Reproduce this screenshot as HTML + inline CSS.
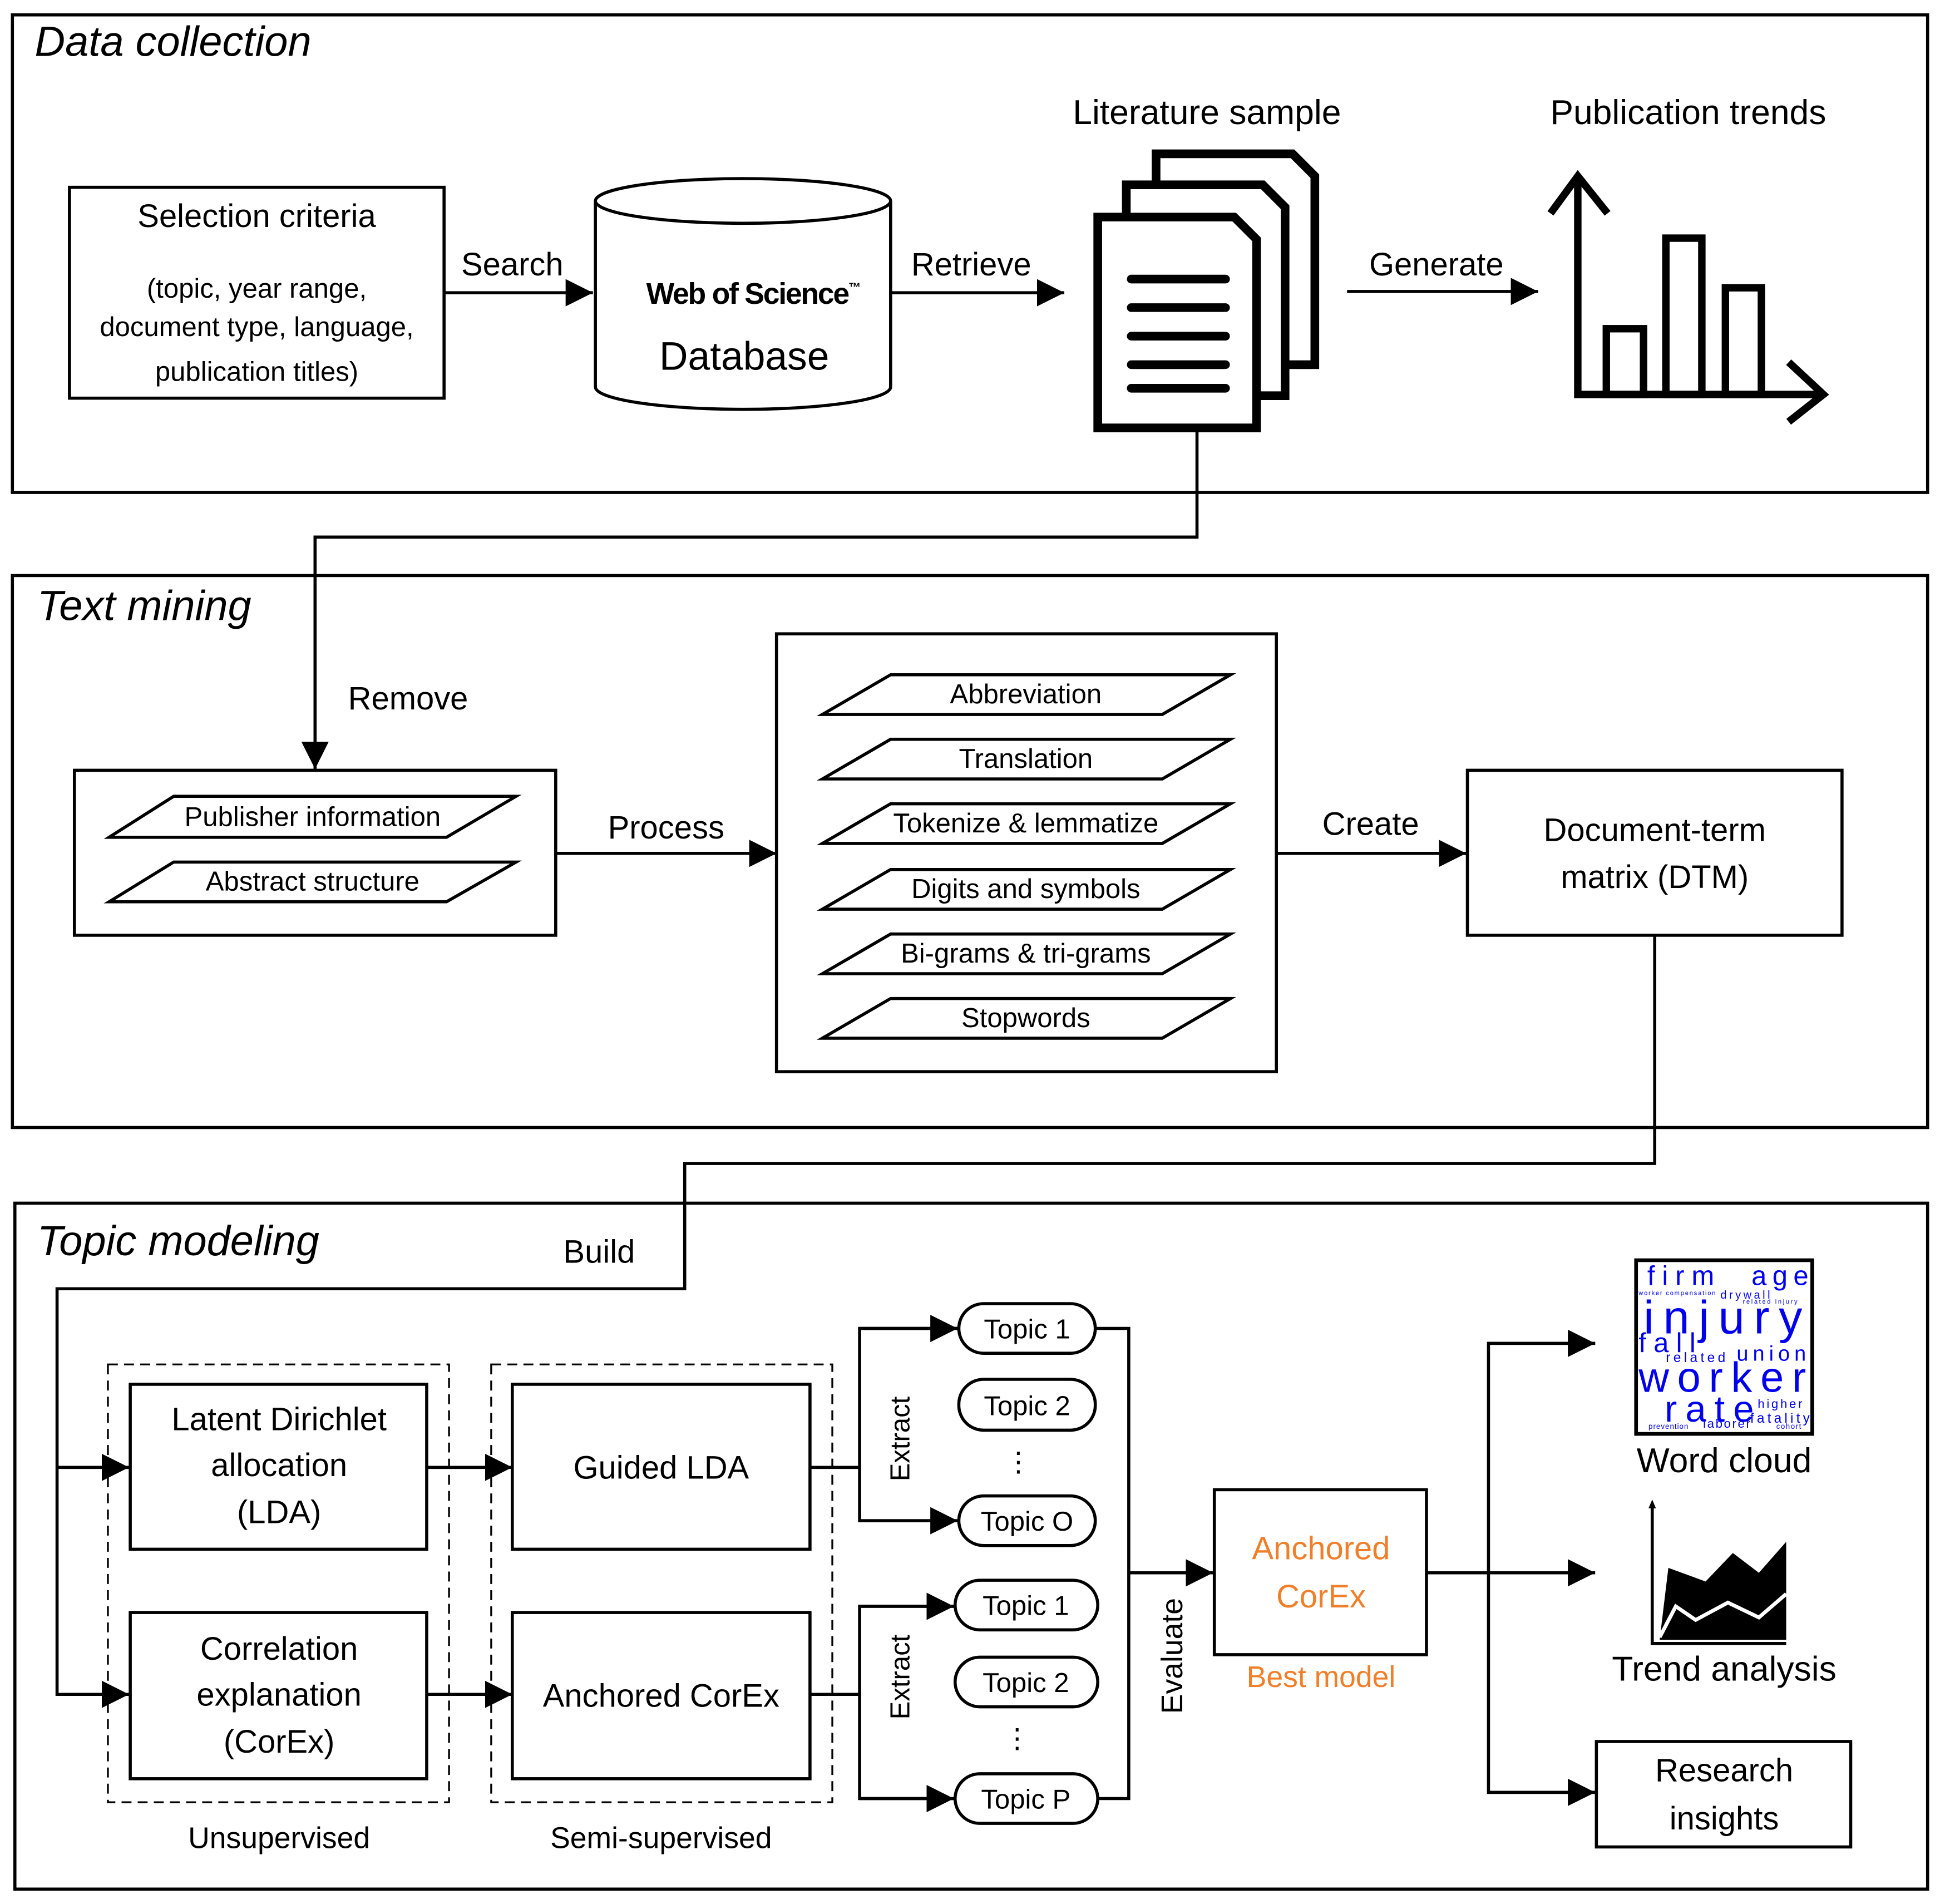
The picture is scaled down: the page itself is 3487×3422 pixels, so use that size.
<!DOCTYPE html>
<html><head><meta charset="utf-8"><style>
html,body{margin:0;padding:0;background:#fff}
svg{display:block}
text{font-family:"Liberation Sans","DejaVu Sans",sans-serif;fill:#000}
</style></head><body>
<svg width="3487" height="3422" viewBox="0 0 1564 1535" preserveAspectRatio="none" xmlns="http://www.w3.org/2000/svg">
<defs>
<marker id="a" viewBox="0 0 10 10" refX="10" refY="5" markerWidth="9" markerHeight="9" markerUnits="userSpaceOnUse" orient="auto"><path d="M0,0L10,5L0,10z" fill="#000"/></marker>
<marker id="b" viewBox="0 0 10 10" refX="10" refY="5" markerWidth="22" markerHeight="22" markerUnits="userSpaceOnUse" orient="auto"><path d="M0,0L10,5L0,10z" fill="#000"/></marker>
</defs>
<g fill="none" stroke="#000" stroke-width="2.5">
<!-- panels -->
<rect x="10" y="12" width="1544" height="385"/>
<rect x="10" y="464" width="1544" height="445"/>
<rect x="12" y="970" width="1542" height="553"/>
<!-- panel 1 -->
<rect x="56" y="151" width="302" height="170"/>
<path d="M480,162 V312 A119,18 0 0 0 718,312 V162" />
<ellipse cx="599" cy="162" rx="119" ry="18"/>
</g>
<g stroke="#000" stroke-width="2.5" fill="none">
<line x1="358" y1="236" x2="478" y2="236" marker-end="url(#b)"/>
<line x1="718" y1="236" x2="858" y2="236" marker-end="url(#b)"/>
<line x1="1086" y1="235" x2="1240" y2="235" marker-end="url(#b)"/>
<polyline points="965,347 965,433 254,433 254,620" marker-end="url(#b)"/>
<line x1="448" y1="688" x2="626" y2="688" marker-end="url(#b)"/>
<line x1="1029" y1="688" x2="1182" y2="688" marker-end="url(#b)"/>
<polyline points="1334,754 1334,938 552,938 552,1039 46,1039 46,1366 104,1366" marker-end="url(#b)"/>
<line x1="46" y1="1183" x2="104" y2="1183" marker-end="url(#b)"/>
<line x1="344" y1="1183" x2="413" y2="1183" marker-end="url(#b)"/>
<line x1="344" y1="1366" x2="413" y2="1366" marker-end="url(#b)"/>
<polyline points="653,1183 693,1183"/>
<polyline points="772,1071 693,1071 693,1226 772,1226" />
<line x1="693" y1="1071" x2="772" y2="1071" marker-end="url(#b)"/>
<line x1="693" y1="1226" x2="772" y2="1226" marker-end="url(#b)"/>
<polyline points="653,1366 693,1366"/>
<polyline points="769,1295 693,1295 693,1450 769,1450"/>
<line x1="693" y1="1295" x2="769" y2="1295" marker-end="url(#b)"/>
<line x1="693" y1="1450" x2="769" y2="1450" marker-end="url(#b)"/>
<polyline points="883,1071 910,1071 910,1450 885,1450"/>
<line x1="910" y1="1268" x2="978" y2="1268" marker-end="url(#b)"/>
<polyline points="1150,1268 1200,1268"/>
<polyline points="1286,1083 1200,1083 1200,1445 1286,1445"/>
<line x1="1200" y1="1083" x2="1286" y2="1083" marker-end="url(#b)"/>
<line x1="1200" y1="1268" x2="1286" y2="1268" marker-end="url(#b)"/>
<line x1="1200" y1="1445" x2="1286" y2="1445" marker-end="url(#b)"/>
</g>
<!-- documents icon -->
<g stroke="#000" stroke-width="7" fill="#fff" stroke-linejoin="miter">
<path d="M932,124 H1042 L1060,142 V294 H932 Z"/>
<path d="M908,149 H1018 L1036,167 V319 H908 Z"/>
<path d="M885,175 H995 L1013,193 V345 H885 Z"/>
</g>
<g stroke="#000" stroke-width="7" stroke-linecap="round">
<line x1="912" y1="225" x2="988" y2="225"/><line x1="912" y1="248" x2="988" y2="248"/>
<line x1="912" y1="271" x2="988" y2="271"/><line x1="912" y1="294" x2="988" y2="294"/>
<line x1="912" y1="313" x2="988" y2="313"/>
</g>
<!-- bar chart -->
<g stroke="#000" stroke-width="6" fill="none">
<polyline points="1250,172 1272,142 1296,172"/>
<polyline points="1272,142 1272,318 1470,318"/>
<polyline points="1442,292 1470,318 1442,340"/>
<rect x="1295" y="265" width="30" height="53"/>
<rect x="1343" y="192" width="29" height="126"/>
<rect x="1391" y="232" width="29" height="86"/>
</g>
<!-- panel 2 shapes -->
<g fill="none" stroke="#000" stroke-width="2.5">
<rect x="60" y="621" width="388" height="133"/>
<polygon points="88,675 140,642 416,642 360,675"/>
<polygon points="88,727 140,695 416,695 360,727"/>
<rect x="626" y="511" width="403" height="353"/>
<polygon points="663,576 718,544 992,544 937,576"/>
<polygon points="663,628 718,596 992,596 937,628"/>
<polygon points="663,680 718,648 992,648 937,680"/>
<polygon points="663,733 718,701 992,701 937,733"/>
<polygon points="663,785 718,753 992,753 937,785"/>
<polygon points="663,837 718,805 992,805 937,837"/>
<rect x="1183" y="621" width="302" height="133"/>
<!-- panel 3 -->
<rect x="87" y="1100" width="275" height="353" stroke-dasharray="8,5" stroke-width="1.5"/>
<rect x="396" y="1100" width="275" height="353" stroke-dasharray="8,5" stroke-width="1.5"/>
<rect x="105" y="1116" width="239" height="133"/>
<rect x="105" y="1300" width="239" height="134"/>
<rect x="413" y="1116" width="240" height="133"/>
<rect x="413" y="1300" width="240" height="134"/>
<rect x="773" y="1051" width="110" height="40" rx="20"/>
<rect x="773" y="1112" width="110" height="41" rx="20"/>
<rect x="773" y="1206" width="110" height="40" rx="20"/>
<rect x="770" y="1274" width="115" height="40" rx="20"/>
<rect x="770" y="1336" width="115" height="40" rx="20"/>
<rect x="770" y="1430" width="115" height="40" rx="20"/>
<rect x="979" y="1201" width="171" height="133"/>
<rect x="1287" y="1404" width="205" height="85"/>
<rect x="1319" y="1016" width="142" height="140" stroke-width="3"/>
</g>
<!-- trend analysis -->
<g>
<polyline points="1332,1212 1332,1325 1440,1325" fill="none" stroke="#000" stroke-width="2.5"/>
<path d="M1329,1216 L1332,1209 L1335,1216Z"/>
<polygon points="1338,1322 1345,1264 1375,1275 1397,1252 1418,1268 1440,1243 1440,1322"/>
<polyline points="1338,1320 1351,1295 1367,1306 1393,1292 1418,1304 1440,1285" fill="none" stroke="#fff" stroke-width="3"/>
</g>
<!-- texts -->
<g font-size="26" text-anchor="middle">
<text x="28" y="45" font-size="34" font-style="italic" text-anchor="start">Data collection</text>
<text x="30" y="500" font-size="34" font-style="italic" text-anchor="start">Text mining</text>
<text x="30" y="1012" font-size="34" font-style="italic" text-anchor="start">Topic modeling</text>
<text x="207" y="183">Selection criteria</text>
<text x="207" y="240" font-size="22">(topic, year range,</text>
<text x="207" y="271" font-size="22">document type, language,</text>
<text x="207" y="307" font-size="22">publication titles)</text>
<text x="413" y="222">Search</text>
<text x="607" y="245" font-size="24" font-weight="bold" letter-spacing="-1">Web of Science<tspan font-size="10" dy="-10">™</tspan></text>
<text x="600" y="298" font-size="32">Database</text>
<text x="783" y="222">Retrieve</text>
<text x="973" y="100" font-size="28">Literature sample</text>
<text x="1158" y="222">Generate</text>
<text x="1361" y="100" font-size="28">Publication trends</text>
<text x="329" y="572">Remove</text>
<text x="252" y="666" font-size="22">Publisher information</text>
<text x="252" y="718" font-size="22">Abstract structure</text>
<text x="537" y="676">Process</text>
<g font-size="22">
<text x="827" y="567">Abbreviation</text>
<text x="827" y="619">Translation</text>
<text x="827" y="671">Tokenize &amp; lemmatize</text>
<text x="827" y="724">Digits and symbols</text>
<text x="827" y="776">Bi-grams &amp; tri-grams</text>
<text x="827" y="828">Stopwords</text>
</g>
<text x="1105" y="673">Create</text>
<text x="1334" y="678">Document-term</text>
<text x="1334" y="716">matrix (DTM)</text>
<text x="483" y="1018">Build</text>
<text x="225" y="1153">Latent Dirichlet</text>
<text x="225" y="1190">allocation</text>
<text x="225" y="1228">(LDA)</text>
<text x="225" y="1338">Correlation</text>
<text x="225" y="1375">explanation</text>
<text x="225" y="1413">(CorEx)</text>
<text x="533" y="1192">Guided LDA</text>
<text x="533" y="1376">Anchored CorEx</text>
<text x="225" y="1490" font-size="24">Unsupervised</text>
<text x="533" y="1490" font-size="24">Semi-supervised</text>
<g font-size="22">
<text x="828" y="1079">Topic 1</text>
<text x="828" y="1141">Topic 2</text>
<text x="821" y="1186">⋮</text>
<text x="828" y="1234">Topic O</text>
<text x="827" y="1302">Topic 1</text>
<text x="827" y="1364">Topic 2</text>
<text x="820" y="1409">⋮</text>
<text x="827" y="1458">Topic P</text>
<text transform="translate(733,1160) rotate(-90)">Extract</text>
<text transform="translate(733,1352) rotate(-90)">Extract</text>
</g>
<text transform="translate(953,1335) rotate(-90)" font-size="24">Evaluate</text>
<text x="1065" y="1257" fill="#f07f2a" style="fill:#f07f2a">Anchored</text>
<text x="1065" y="1296" style="fill:#f07f2a">CorEx</text>
<text x="1065" y="1360" font-size="24" style="fill:#f07f2a">Best model</text>
<text x="1390" y="1187" font-size="28">Word cloud</text>
<text x="1390" y="1355" font-size="28">Trend analysis</text>
<text x="1390" y="1436">Research</text>
<text x="1390" y="1475">insights</text>
</g>
<!-- word cloud -->
<g font-family="DejaVu Sans Mono" style="font-family:'DejaVu Sans Mono','Liberation Mono',monospace">
<text x="1328" y="1036" font-size="22" style="fill:#0000ee" textLength="54">firm</text>
<text x="1412" y="1036" font-size="22" style="fill:#0000ee" textLength="46">age</text>
<text x="1321" y="1044" font-size="5" style="fill:#0000ee" textLength="62">worker compensation</text>
<text x="1387" y="1047" font-size="9" style="fill:#0000ee" textLength="40">drywall</text>
<text x="1405" y="1051" font-size="5" style="fill:#0000ee" textLength="44">related injury</text>
<text x="1325" y="1075" font-size="38" style="fill:#0000ee" textLength="128">injury</text>
<text x="1321" y="1090" font-size="22" style="fill:#0000ee" textLength="46">fall</text>
<text x="1343" y="1098" font-size="11" style="fill:#0000ee" textLength="48">related</text>
<text x="1400" y="1097" font-size="17" style="fill:#0000ee" textLength="56">union</text>
<text x="1321" y="1122" font-size="34" style="fill:#0000ee" textLength="135">worker</text>
<text x="1342" y="1146" font-size="30" style="fill:#0000ee" textLength="72">rate</text>
<text x="1417" y="1135" font-size="10" style="fill:#0000ee" textLength="36">higher</text>
<text x="1411" y="1147" font-size="11" style="fill:#0000ee" textLength="48">fatality</text>
<text x="1373" y="1151" font-size="10" style="fill:#0000ee" textLength="38">laborer</text>
<text x="1329" y="1152" font-size="6" style="fill:#0000ee" textLength="32">prevention</text>
<text x="1432" y="1152" font-size="6" style="fill:#0000ee" textLength="20">cohort</text>
</g>
</svg>
</body></html>
